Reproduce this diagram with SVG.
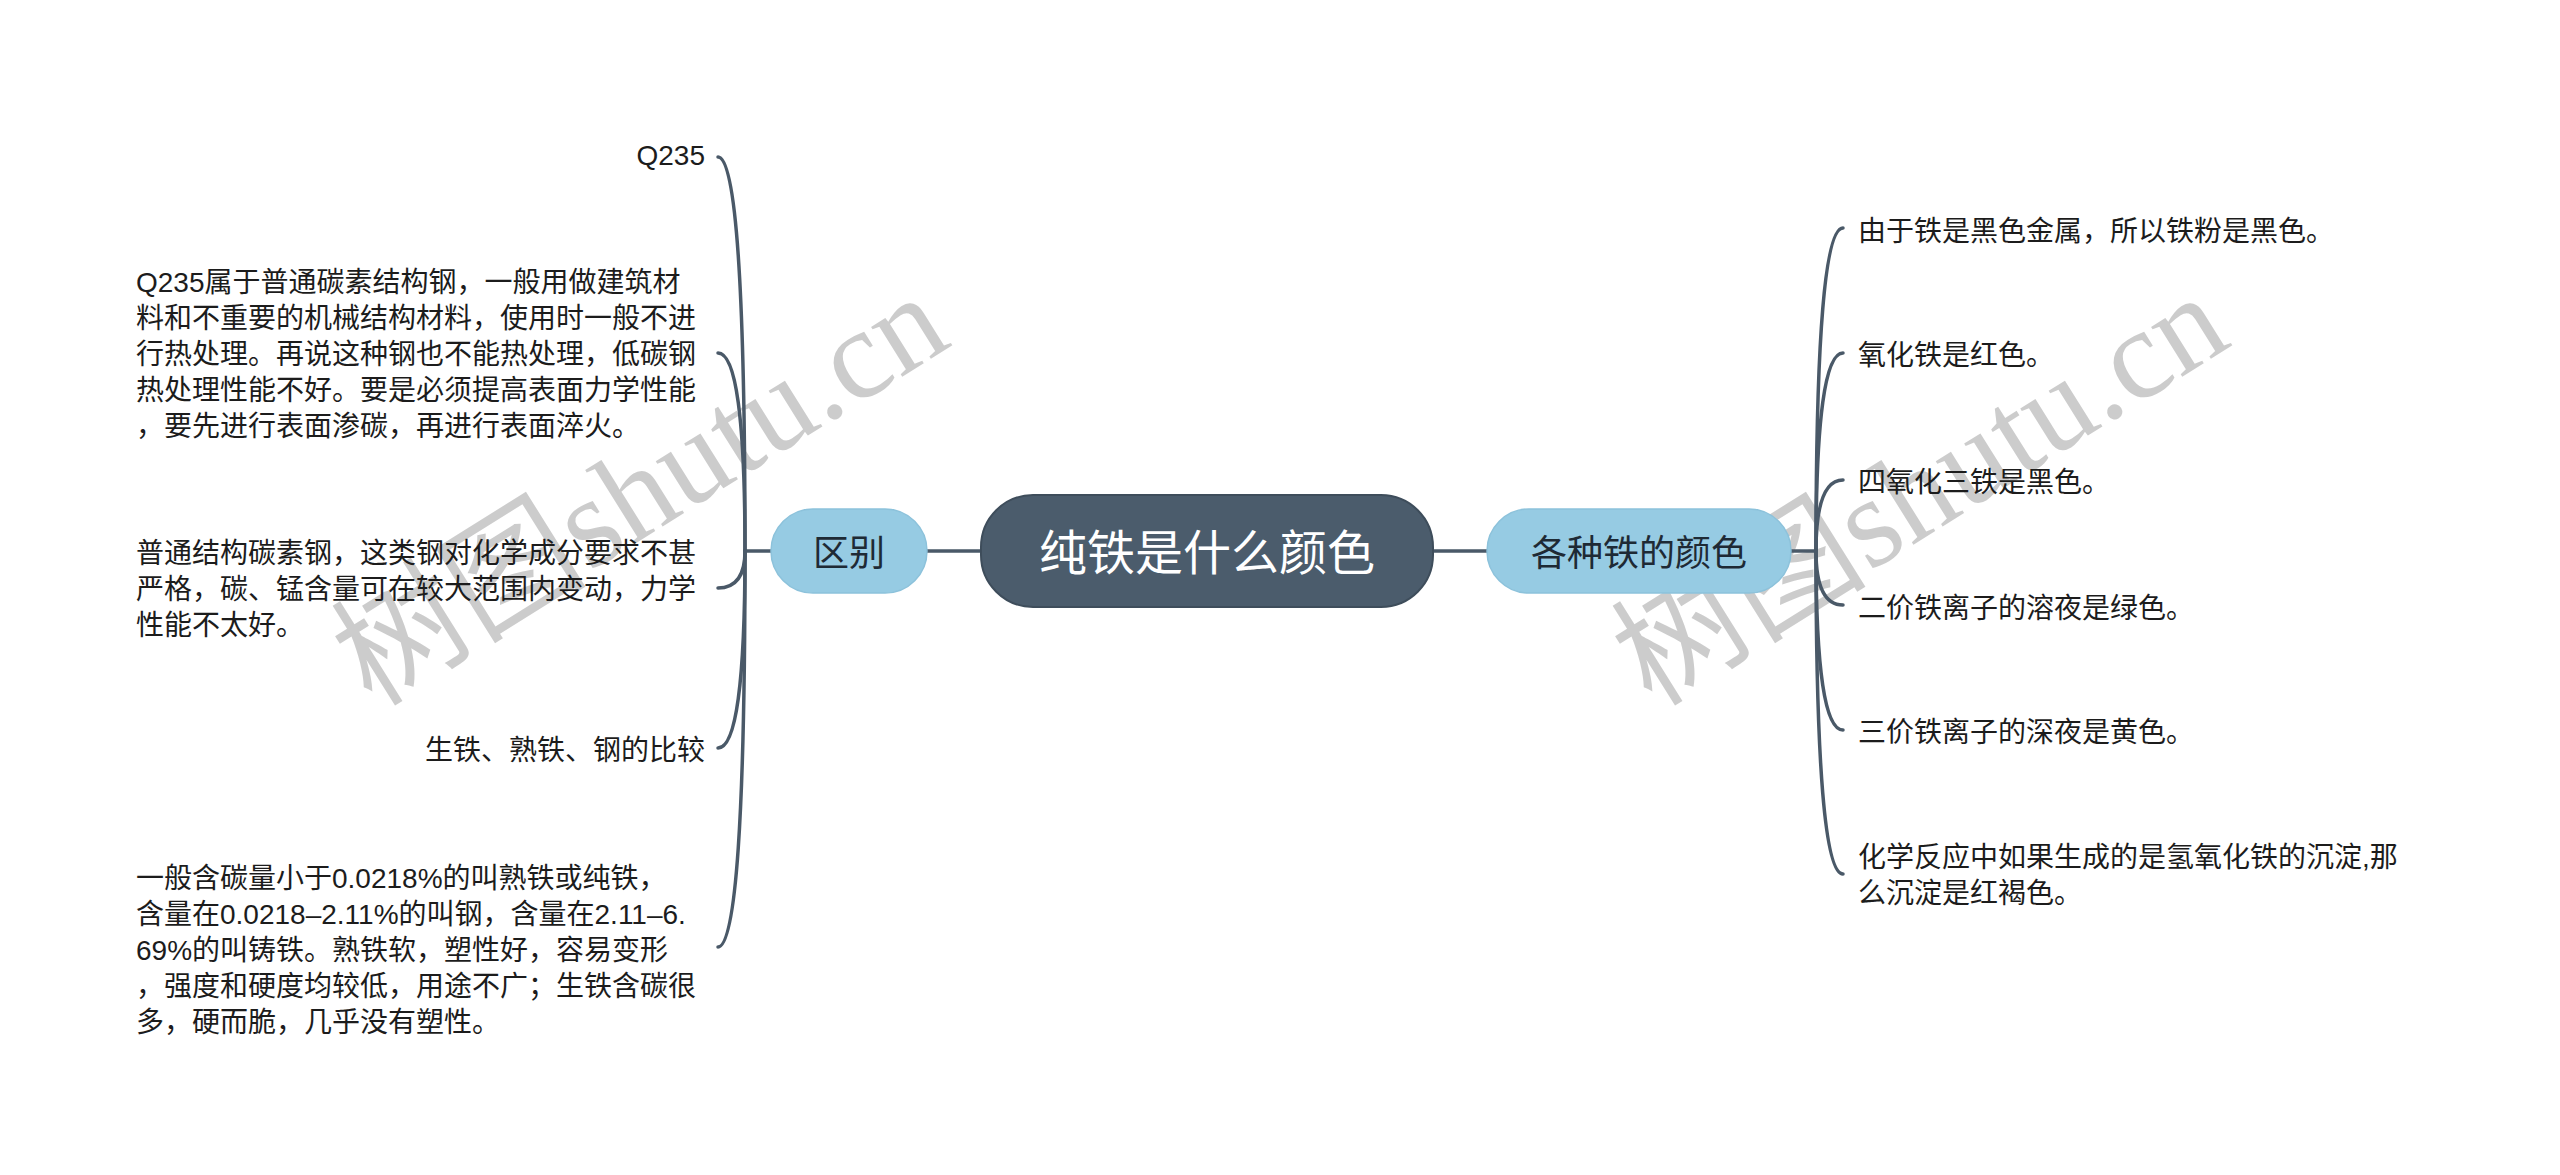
<svg xmlns="http://www.w3.org/2000/svg" width="2560" height="1175" viewBox="0 0 2560 1175">
  <style>
    .conn { fill: none; stroke: #4a5968; stroke-width: 3.5; stroke-linecap: round; }
    .root { fill: #4b5c6c; stroke: #3e4d5b; stroke-width: 2; }
    .sub { fill: #96cbe3; stroke: #8cc2db; stroke-width: 1.5; }
    .t { font-family: "Liberation Sans", "Noto Sans CJK SC", sans-serif; }
    .leaf { font-size: 28px; fill: #1c1c1c; }
    .subt { font-size: 36px; fill: #1e2a35; text-anchor: middle; }
    .roott { font-size: 48px; fill: #ffffff; text-anchor: middle; }
    .wm { font-family: "Liberation Serif", "Noto Sans CJK SC", serif; font-size: 128px; fill: #808080; fill-opacity: 0.4; }
  </style>
  <rect width="2560" height="1175" fill="#ffffff"/>

  <g id="watermark">
    <text class="wm" x="372" y="708" transform="rotate(-32 372 708)">树图shutu.cn</text>
    <text class="wm" x="1652" y="708" transform="rotate(-32 1652 708)">树图shutu.cn</text>
  </g>

  <g id="connectors">
    <line class="conn" x1="981" y1="551" x2="927" y2="551"/>
    <line class="conn" x1="1433" y1="551" x2="1487" y2="551"/>
    <line class="conn" x1="771" y1="551" x2="745" y2="551"/>
    <line class="conn" x1="1791" y1="551" x2="1816" y2="551"/>
    <path class="conn" d="M745 551 Q745 157 718 157"/>
    <path class="conn" d="M745 551 Q745 353 718 353"/>
    <path class="conn" d="M745 551 Q745 588 718 588"/>
    <path class="conn" d="M745 551 Q745 748 718 748"/>
    <path class="conn" d="M745 551 Q745 947 718 947"/>
    <path class="conn" d="M1816 551 Q1816 228 1843 228"/>
    <path class="conn" d="M1816 551 Q1816 353 1843 353"/>
    <path class="conn" d="M1816 551 Q1816 480 1843 480"/>
    <path class="conn" d="M1816 551 Q1816 605 1843 605"/>
    <path class="conn" d="M1816 551 Q1816 730 1843 730"/>
    <path class="conn" d="M1816 551 Q1816 874 1843 874"/>
  </g>

  <g id="root">
    <rect class="root" x="981" y="495" width="452" height="112" rx="52"/>
    <text class="t roott" x="1207" y="570">纯铁是什么颜色</text>
  </g>

  <g id="node-qubie">
    <rect class="sub" x="771" y="509" width="156" height="84" rx="42"/>
    <text class="t subt" x="849" y="566">区别</text>
  </g>

  <g id="node-yanse">
    <rect class="sub" x="1487" y="509" width="304" height="84" rx="42"/>
    <text class="t subt" x="1639" y="566">各种铁的颜色</text>
  </g>

  <g id="leaf-q235">
    <text class="t leaf" x="705" y="165" text-anchor="end">Q235</text>
  </g>
  <g id="leaf-q235-desc">
    <text class="t leaf">
      <tspan x="136" y="292">Q235属于普通碳素结构钢，一般用做建筑材</tspan>
      <tspan x="136" y="328">料和不重要的机械结构材料，使用时一般不进</tspan>
      <tspan x="136" y="364">行热处理。再说这种钢也不能热处理，低碳钢</tspan>
      <tspan x="136" y="400">热处理性能不好。要是必须提高表面力学性能</tspan>
      <tspan x="136" y="436">，要先进行表面渗碳，再进行表面淬火。</tspan>
    </text>
  </g>
  <g id="leaf-putong">
    <text class="t leaf">
      <tspan x="136" y="563">普通结构碳素钢，这类钢对化学成分要求不甚</tspan>
      <tspan x="136" y="599">严格，碳、锰含量可在较大范围内变动，力学</tspan>
      <tspan x="136" y="635">性能不太好。</tspan>
    </text>
  </g>
  <g id="leaf-bijiao">
    <text class="t leaf" x="705" y="760" text-anchor="end">生铁、熟铁、钢的比较</text>
  </g>
  <g id="leaf-hantan">
    <text class="t leaf">
      <tspan x="136" y="888">一般含碳量小于0.0218%的叫熟铁或纯铁，</tspan>
      <tspan x="136" y="924">含量在0.0218–2.11%的叫钢，含量在2.11–6.</tspan>
      <tspan x="136" y="960">69%的叫铸铁。熟铁软，塑性好，容易变形</tspan>
      <tspan x="136" y="996">，强度和硬度均较低，用途不广；生铁含碳很</tspan>
      <tspan x="136" y="1032">多，硬而脆，几乎没有塑性。</tspan>
    </text>
  </g>

  <g id="leaf-r1"><text class="t leaf" x="1858" y="241">由于铁是黑色金属，所以铁粉是黑色。</text></g>
  <g id="leaf-r2"><text class="t leaf" x="1858" y="365">氧化铁是红色。</text></g>
  <g id="leaf-r3"><text class="t leaf" x="1858" y="492">四氧化三铁是黑色。</text></g>
  <g id="leaf-r4"><text class="t leaf" x="1858" y="618">二价铁离子的溶夜是绿色。</text></g>
  <g id="leaf-r5"><text class="t leaf" x="1858" y="742">三价铁离子的深夜是黄色。</text></g>
  <g id="leaf-r6">
    <text class="t leaf">
      <tspan x="1858" y="867">化学反应中如果生成的是氢氧化铁的沉淀,那</tspan>
      <tspan x="1858" y="903">么沉淀是红褐色。</tspan>
    </text>
  </g>
</svg>
